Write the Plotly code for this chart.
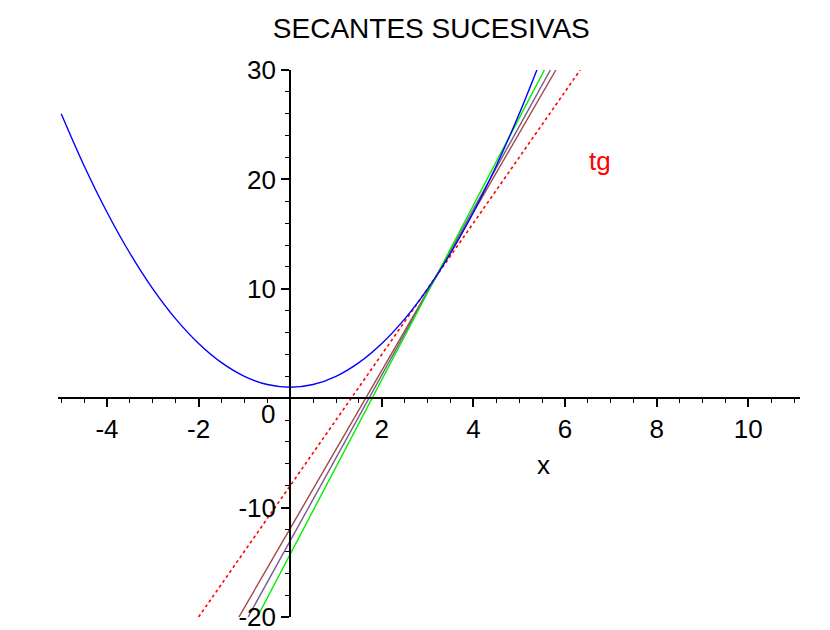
import plotly.graph_objects as go

# parabola (blue)
curve_x = [-5, -4.5, -4, -3.5, -3, -2.5, -2, -1.5, -1, -0.5, 0, 0.5, 1, 1.5, 2, 2.5, 3, 3.5, 4, 4.5, 5, 5.39]
curve_y = [26, 21.25, 17, 13.25, 10, 7.25, 5, 3.25, 2, 1.25, 1, 1.25, 2, 3.25, 5, 7.25, 10, 13.25, 17, 21.25, 26, 30.05]

# straight lines, ends where they leave the box (y=-20 and y=30)
line_y = [-20, 30]
tg_x = [-2.0, 6.33]
sec_green_x = [-0.72, 5.55]
sec_purple_x = [-0.92, 5.68]
sec_brown_x = [-1.12, 5.80]

x_ticks = [-4, -2, 2, 4, 6, 8, 10]
y_ticks = [-20, -10, 10, 20, 30]

FONT = "Liberation Sans, Arial, sans-serif"

fig = go.Figure()
fig.add_trace(go.Scatter(x=tg_x, y=line_y, mode='lines',
                         line=dict(color='#ff0000', width=1.6, dash='dot')))
fig.add_trace(go.Scatter(x=sec_brown_x, y=line_y, mode='lines',
                         line=dict(color='#a04848', width=1.4)))
fig.add_trace(go.Scatter(x=sec_purple_x, y=line_y, mode='lines',
                         line=dict(color='#7a5a8c', width=1.4)))
fig.add_trace(go.Scatter(x=sec_green_x, y=line_y, mode='lines',
                         line=dict(color='#00ee00', width=1.4)))
fig.add_trace(go.Scatter(x=curve_x, y=curve_y, mode='lines', line_shape='spline',
                         line=dict(color='#0000ff', width=1.4)))

xr = [-5.07, 11.13]
yr = [-20, 30]

# page body adds an 8px offset, margins account for that
fig.update_layout(
    width=830, height=630,
    margin=dict(l=50, r=38, t=62, b=21, autoexpand=False),
    paper_bgcolor='white', plot_bgcolor='white',
    showlegend=False, hovermode=False,
    font=dict(family=FONT, color='black'),
    title=dict(text='SECANTES SUCESIVAS', x=0.51, xanchor='center',
               y=1 - 20 / 630, yanchor='middle',
               font=dict(family=FONT, size=28, color='black')),
    xaxis=dict(range=xr, anchor='free', position=(0 - yr[0]) / (yr[1] - yr[0]),
               automargin=False, ticklabeloverflow='allow',
               showline=True, linecolor='black', linewidth=2,
               showgrid=False, zeroline=False,
               tickmode='array', tickvals=x_ticks, ticktext=[str(v) for v in x_ticks],
               ticks='outside', ticklen=8, tickwidth=1.5, tickcolor='black',
               tickfont=dict(size=26, color='black'),
               minor=dict(dtick=0.5, tick0=0, ticks='outside', ticklen=4,
                          tickwidth=1.2, tickcolor='black', showgrid=False)),
    yaxis=dict(range=yr, anchor='free', position=(0 - xr[0]) / (xr[1] - xr[0]),
               automargin=False, ticklabeloverflow='allow',
               showline=True, linecolor='black', linewidth=2,
               showgrid=False, zeroline=False,
               tickmode='array', tickvals=y_ticks, ticktext=[str(v) for v in y_ticks],
               ticks='outside', ticklen=8, tickwidth=1.5, tickcolor='black',
               tickfont=dict(size=26, color='black'),
               minor=dict(dtick=2, tick0=0, ticks='outside', ticklen=4,
                          tickwidth=1.2, tickcolor='black', showgrid=False)),
)

fig.add_annotation(x=-0.48, y=-1.4, text='0', showarrow=False,
                   font=dict(size=26, color='black'))
fig.add_annotation(x=5.52, y=-6.1, text='x', showarrow=False,
                   font=dict(size=26, color='black'))
fig.add_annotation(x=6.77, y=21.7, text='tg', showarrow=False,
                   font=dict(size=26, color='#ff0000'))

fig.write_html("out.html")
